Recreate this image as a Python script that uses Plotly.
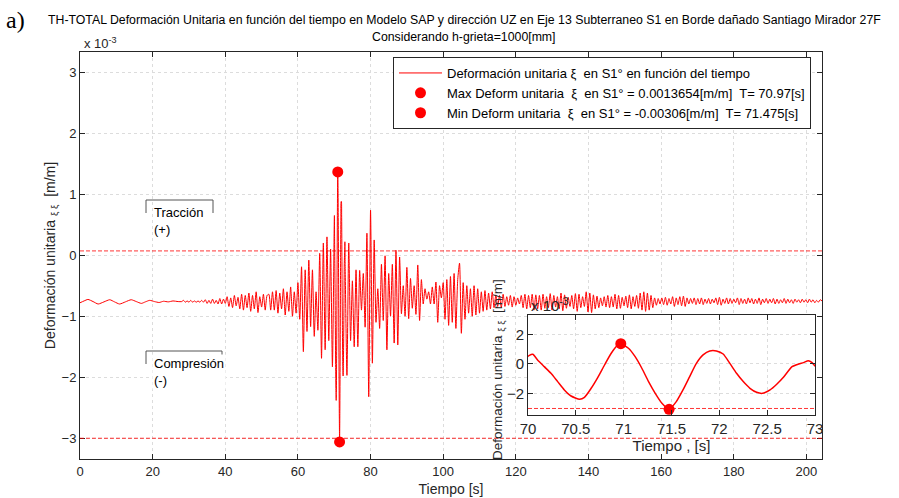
import numpy as np
import plotly.graph_objects as go

# ---------------- data (strain in units of 1e-3 m/m) ----------------
t_seg1 = [0.0, 1.1, 2.2, 3.6, 5.0, 6.6, 8.2, 9.5, 10.9, 12.5, 14.1, 15.5, 16.9,
          18.0, 19.2, 20.5, 21.8, 23.0, 24.3, 25.6, 27.0]
v_seg1 = [-0.78, -0.75, -0.725, -0.76, -0.80, -0.765, -0.73, -0.765, -0.80, -0.765,
          -0.73, -0.76, -0.79, -0.765, -0.74, -0.76, -0.775, -0.755, -0.765, -0.75, -0.76]

v_seg2 = [-0.76, -0.74, -0.77, -0.75, -0.77, -0.74, -0.77, -0.75, -0.77, -0.75, -0.77, -0.74, -0.77,
          -0.73, -0.79, -0.74, -0.79, -0.72, -0.79, -0.74, -0.80, -0.71, -0.80, -0.72, -0.79,
          -0.68, -0.84, -0.70, -0.86, -0.66, -0.83, -0.69, -0.88, -0.64, -0.90, -0.66, -0.86,
          -0.62, -0.92, -0.66, -0.88, -0.60, -0.94, -0.68, -0.85, -0.64, -0.90, -0.66, -0.64]
seg2_span = (28.0, 52.0)

v_seg3 = [-0.90, -0.60, -0.90, -0.58, -0.95, -0.62, -0.88, -0.55, -0.98, -0.60, -0.92, -0.52,
          -1.00, -0.60, -0.95, -0.45, -1.05, -0.19, -1.58, -0.24, -1.25, -0.08, -1.17, -0.24,
          -1.33, -0.60, -1.23, 0.03, -1.69, 0.20, -1.55, 0.30, -1.40, 0.10, -1.83]
seg3_span = (52.5, 69.5)

t_zoom = [70.01, 70.05, 70.10, 70.17, 70.24, 70.31, 70.38, 70.45, 70.54, 70.59, 70.66, 70.73,
          70.80, 70.87, 70.94, 70.97, 71.05, 71.12, 71.19, 71.26, 71.33, 71.40, 71.475, 71.55,
          71.62, 71.69, 71.76, 71.83, 71.90, 71.97, 72.04, 72.11, 72.18, 72.25, 72.32, 72.39,
          72.45, 72.53, 72.60, 72.67, 72.76, 72.83, 72.88, 72.93, 72.97, 73.0]
v_zoom = [0.56, 0.65, 0.27, -0.18, -0.63, -1.19, -1.75, -2.16, -2.38, -2.25, -1.64, -0.90,
          -0.07, 0.72, 1.28, 1.3654, 1.06, 0.49, -0.29, -1.19, -1.98, -2.65, -3.06, -2.54,
          -1.75, -0.85, 0.04, 0.61, 0.88, 0.88, 0.67, 0.04, -0.63, -1.19, -1.64, -1.91,
          -1.98, -1.75, -1.37, -0.90, -0.18, 0.0, 0.09, 0.22, 0.09, -0.13]

v_seg4 = [-1.97, 0.20, -1.40, -0.42, -1.50, -0.24, -1.50, -0.25, -0.90, -0.30, -1.18, 0.36,
          -2.32, 0.74, -1.77, 0.25, -1.10, -0.55, -1.20, -0.15, -1.07, -0.01, -1.55, -0.30,
          -1.00, -0.15, -1.44, 0.08, -1.47, -0.03, -0.96, -0.50, -1.00, -0.20, -1.04, -0.38,
          -0.87, -0.50, -0.97, -0.16, -1.07, -0.40, -0.80, -0.55, -0.72, -0.60, -0.80, -0.52,
          -0.80, -0.44, -1.10, -0.50, -0.70]
seg4_span = (73.5, 99.5)

v_seg5 = [-0.45, -1.05, -0.40, -1.15, -0.35, -1.10, -0.30, -1.20, -0.40, -0.13, -1.28, -0.45,
          -1.05, -0.50, -0.95, -0.55, -1.00, -0.50, -0.98, -0.55, -0.95, -0.60, -0.92, -0.58,
          -0.90, -0.62, -0.88, -0.60, -0.86, -0.65, -0.84, -0.66, -0.86, -0.64, -0.84, -0.68,
          -0.82, -0.66, -0.85, -0.68, -0.82, -0.70, -0.80, -0.66, -0.86, -0.64, -0.88, -0.66,
          -0.86, -0.64, -0.90]
seg5_span = (100.0, 125.0)

v_seg6 = [-0.65, -0.88, -0.66, -0.90, -0.64, -0.87, -0.68, -0.86, -0.63, -0.90,
          -0.66, -0.85, -0.68, -0.88, -0.62, -0.91, -0.65, -0.87, -0.69, -0.84,
          -0.66, -0.88, -0.63, -0.92, -0.64, -0.86, -0.68, -0.84, -0.60, -0.93,
          -0.62, -0.94, -0.65, -0.88, -0.67, -0.86, -0.70, -0.83, -0.68, -0.85,
          -0.66, -0.86, -0.68, -0.85, -0.64, -0.88, -0.66, -0.87, -0.69, -0.83,
          -0.67, -0.86, -0.65, -0.88, -0.68, -0.84, -0.66, -0.87, -0.62, -0.90,
          -0.60, -0.92, -0.62, -0.90, -0.66, -0.86, -0.70, -0.82, -0.71, -0.80,
          -0.70, -0.81, -0.69, -0.82, -0.71, -0.80, -0.68, -0.84, -0.70, -0.81,
          -0.68, -0.83, -0.67, -0.84, -0.70, -0.80, -0.71, -0.79, -0.70, -0.81,
          -0.71, -0.80, -0.70, -0.81, -0.72, -0.79, -0.71, -0.80, -0.72, -0.78,
          -0.70, -0.81, -0.69, -0.82, -0.72, -0.79, -0.70, -0.80, -0.71, -0.79,
          -0.72, -0.78, -0.70, -0.81, -0.71, -0.79, -0.72, -0.80, -0.70, -0.78,
          -0.71, -0.80, -0.72, -0.79, -0.70, -0.81, -0.72, -0.78, -0.71, -0.79,
          -0.72, -0.78, -0.71, -0.80, -0.72, -0.79, -0.73, -0.78, -0.71, -0.79,
          -0.72, -0.78, -0.73, -0.79, -0.72, -0.77, -0.73, -0.78, -0.72, -0.77,
          -0.73, -0.78, -0.72, -0.77, -0.73, -0.78, -0.74, -0.77, -0.73, -0.75]
seg6_span = (125.5, 204.3)

t_max, v_max = 70.97, 1.3654
t_min, v_min = 71.475, -3.06
limite_traccion = 0.07
limite_compresion = -3.0

x_ticks = [0, 20, 40, 60, 80, 100, 120, 140, 160, 180, 200]
y_ticks = [-3, -2, -1, 0, 1, 2, 3]
xz_ticks = [70, 70.5, 71, 71.5, 72, 72.5, 73]
yz_ticks = [-2, 0, 2]

title_l1 = "TH-TOTAL Deformación Unitaria en función del tiempo en Modelo SAP y dirección UZ en Eje 13 Subterraneo S1 en Borde dañado Santiago Mirador 27F"
title_l2 = "Considerando h-grieta=1000[mm]"

# ---------------- assemble series ----------------
def seg(vals, span):
    return list(np.linspace(span[0], span[1], len(vals))), list(vals)

parts = [(t_seg1, v_seg1), seg(v_seg2, seg2_span), seg(v_seg3, seg3_span), (t_zoom, v_zoom),
         seg(v_seg4, seg4_span), seg(v_seg5, seg5_span), seg(v_seg6, seg6_span)]
t_all, v_all = [], []
for tp, vp in parts:
    t_all += list(tp)
    v_all += list(vp)

# ---------------- layout geometry ----------------
W, H = 899, 498
L, R, T, B = 80, 77, 52, 39
def px(x):
    return (x - L) / (W - L - R)
def py(y):
    return (H - B - y) / (H - T - B)

RED = "#ff0000"
FONT = "Liberation Sans, Arial, sans-serif"
AXC = "#262626"
DASH = "4px,2px"

fig = go.Figure()
fig.add_trace(go.Scatter(x=t_all, y=v_all, mode="lines",
                         line=dict(color=RED, width=1, shape="spline", smoothing=0.6),
                         name="Deformación unitaria ξ&nbsp; en S1° en función del tiempo",
                         xaxis="x", yaxis="y"))
fig.add_trace(go.Scatter(x=[t_max], y=[v_max], mode="markers",
                         marker=dict(color=RED, size=11),
                         name="Max Deform unitaria &nbsp;ξ&nbsp; en S1° = 0.0013654[m/m]&nbsp; T= 70.97[s]",
                         xaxis="x", yaxis="y"))
fig.add_trace(go.Scatter(x=[t_min], y=[v_min], mode="markers",
                         marker=dict(color=RED, size=11),
                         name="Min Deform unitaria &nbsp;ξ&nbsp; en S1° = -0.00306[m/m]&nbsp; T= 71.475[s]",
                         xaxis="x", yaxis="y"))
# inset
fig.add_trace(go.Scatter(x=t_all, y=v_all, mode="lines",
                         line=dict(color=RED, width=1.5, shape="spline", smoothing=0.6),
                         showlegend=False, xaxis="x2", yaxis="y2"))
fig.add_trace(go.Scatter(x=[t_max, t_min], y=[v_max, v_min], mode="markers",
                         marker=dict(color=RED, size=11), showlegend=False,
                         xaxis="x2", yaxis="y2"))

shapes = []
for lim in (limite_traccion, limite_compresion):
    shapes.append(dict(type="line", xref="x domain", yref="y", x0=0, x1=1, y0=lim, y1=lim,
                       line=dict(color=RED, width=0.8, dash=DASH), layer="above"))
shapes.append(dict(type="line", xref="x2 domain", yref="y2", x0=0, x1=1,
                   y0=limite_compresion, y1=limite_compresion,
                   line=dict(color=RED, width=0.8, dash=DASH)))
# bracket boxes around labels
for (x0, x1, y0, y1) in [(146, 213, 200, 213), (146, 222, 351, 364)]:
    shapes.append(dict(type="path", xref="paper", yref="paper",
                       path=f"M {px(x0)},{py(y1)} L {px(x0)},{py(y0)} L {px(x1)},{py(y0)} L {px(x1)},{py(y1)}",
                       line=dict(color="#555555", width=1)))

ann = []
ann.append(dict(text=title_l1, x=px(464), y=py(20), xref="paper", yref="paper", xanchor="center",
                yanchor="middle", showarrow=False, font=dict(family=FONT, size=12.3, color="black")))
ann.append(dict(text=title_l2, x=px(464), y=py(37), xref="paper", yref="paper", xanchor="center",
                yanchor="middle", showarrow=False, font=dict(family=FONT, size=12.3, color="black")))
ann.append(dict(text="a)", x=px(4), y=py(20), xref="paper", yref="paper", xanchor="left",
                yanchor="middle", showarrow=False,
                font=dict(family="Liberation Serif, Times New Roman, serif", size=24, color="black")))
ann.append(dict(text="x 10<sup>-3</sup>", x=px(82), y=py(43), xref="paper", yref="paper",
                xanchor="left", yanchor="middle", showarrow=False, font=dict(family=FONT, size=13, color=AXC)))
ann.append(dict(text="x 10<sup>-3</sup>", x=px(529), y=py(304), xref="paper", yref="paper",
                xanchor="left", yanchor="middle", showarrow=False, font=dict(family=FONT, size=15, color=AXC)))
ann.append(dict(text="Tracción<br>(+)", x=px(152), y=py(203), xref="paper", yref="paper",
                xanchor="left", yanchor="top", align="left", showarrow=False,
                font=dict(family=FONT, size=13, color="black")))
ann.append(dict(text="Compresión<br>(-)", x=px(152), y=py(354), xref="paper", yref="paper",
                xanchor="left", yanchor="top", align="left", showarrow=False, bgcolor="white",
                font=dict(family=FONT, size=13, color="black")))
ann.append(dict(text="Deformación unitaria <sub>ξ ξ</sub>  [m/m]", x=px(498), y=py(370),
                xref="paper", yref="paper", textangle=-90, showarrow=False,
                xanchor="center", yanchor="middle",
                font=dict(family=FONT, size=13.5, color=AXC)))

fig.update_layout(
    width=W, height=H, margin=dict(l=L, r=R, t=T, b=B),
    paper_bgcolor="white", plot_bgcolor="white",
    font=dict(family=FONT, size=13, color=AXC),
    showlegend=True,
    legend=dict(x=px(393), y=py(57), xanchor="left", yanchor="top", bgcolor="white",
                bordercolor=AXC, borderwidth=1, font=dict(family=FONT, size=13, color="black"),
                tracegroupgap=0, itemsizing="trace", itemwidth=43),
    xaxis=dict(domain=[0, 1], range=[0, 204.3], tickvals=x_ticks, ticks="inside", ticklen=5,
               showline=True, mirror="ticks", linecolor=AXC, tickcolor=AXC, linewidth=1,
               showgrid=True, gridcolor="#dcdcdc", griddash="dot", zeroline=False,
               title=dict(text="Tiempo [s]", standoff=6, font=dict(size=14)),
               tickfont=dict(size=13), anchor="y", automargin=False),
    yaxis=dict(domain=[0, 1], range=[-3.34, 3.33], tickvals=y_ticks, ticks="inside", ticklen=5,
               showline=True, mirror="ticks", linecolor=AXC, tickcolor=AXC, linewidth=1,
               showgrid=True, gridcolor="#dcdcdc", griddash="dot", zeroline=False,
               title=dict(text="Deformación unitaria <sub>ξ ξ</sub>  [m/m]", standoff=2, font=dict(size=14)),
               tickfont=dict(size=13), anchor="x", automargin=False),
    xaxis2=dict(domain=[px(528), px(815)], range=[70, 73], tickvals=xz_ticks,
                ticktext=["70", "70.5", "71", "71.5", "72", "72.5", "73"],
                ticks="inside", ticklen=5, showline=True, mirror="ticks", linecolor=AXC,
                tickcolor=AXC, showgrid=True, gridcolor="#dcdcdc", griddash="dot", zeroline=False,
                title=dict(text="Tiempo , [s]", standoff=2, font=dict(size=15)),
                tickfont=dict(size=15), anchor="y2", automargin=False),
    yaxis2=dict(domain=[py(415), py(315)], range=[-3.44, 3.3], tickvals=yz_ticks,
                ticks="inside", ticklen=5, showline=True, mirror="ticks", linecolor=AXC,
                tickcolor=AXC, showgrid=True, gridcolor="#dcdcdc", griddash="dot", zeroline=False,
                tickfont=dict(size=15), anchor="x2", automargin=False),
    shapes=shapes, annotations=ann,
)

fig.write_html("out.html")
